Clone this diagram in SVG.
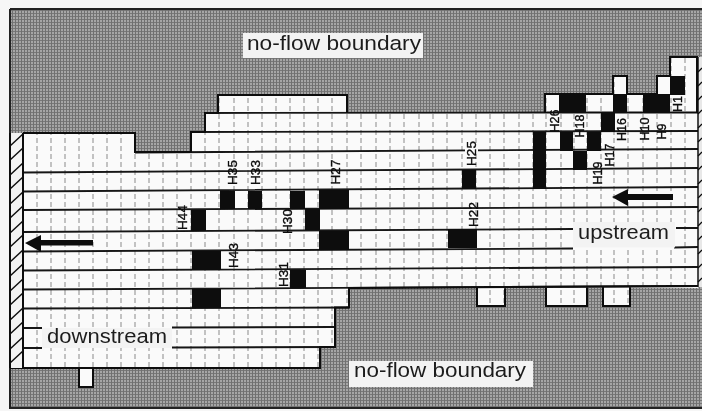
<svg xmlns="http://www.w3.org/2000/svg" width="702" height="411" viewBox="0 0 702 411">
<style>
.lbl{font-family:"Liberation Sans",Arial,sans-serif;font-size:20.500px;fill:#1c1c1c}
.h{font-family:"Liberation Sans",Arial,sans-serif;font-size:13.500px;fill:#0a0a0a;stroke:#0a0a0a;stroke-width:.35;text-anchor:middle}
.hs{font-size:12.500px}
.row{stroke:#151515;stroke-width:1.8;fill:none}
.edge{stroke:#0a0a0a;stroke-width:2;fill:none}
.grid{stroke:#8a8a8a;stroke-width:1;stroke-dasharray:5 3;fill:none}
.cell{fill:#0a0a0a}
.w{fill:#fafafa}
.box{fill:#f3f3f3}
</style>
<defs>
<pattern id="ht" width="3" height="3" patternUnits="userSpaceOnUse">
<rect width="3" height="3" fill="#a6a6a6"/>
<rect x="0" y="0" width="1" height="3" fill="#707070"/>
<rect x="1" y="1" width="2" height="1" fill="#787878"/>
</pattern>
<filter id="soft" x="0" y="0" width="100%" height="100%"><feGaussianBlur stdDeviation="0.5"/></filter>
<clipPath id="cells">
<rect x="23" y="133" width="112" height="19"/>
<rect x="218" y="95" width="129" height="18"/>
<rect x="205" y="113" width="493" height="19"/>
<rect x="191" y="132" width="507" height="21"/>
<rect x="23" y="152" width="675" height="136"/>
<rect x="23" y="288" width="326" height="20"/>
<rect x="23" y="308" width="312" height="39"/>
<rect x="23" y="347" width="297" height="21"/>
<rect x="79" y="368" width="14" height="19"/>
<rect x="477" y="287" width="28" height="19"/>
<rect x="546" y="287" width="41" height="19"/>
<rect x="603" y="287" width="27" height="19"/>
<rect x="546" y="94" width="152" height="19"/>
<rect x="613" y="76" width="14" height="18"/>
<rect x="657" y="76" width="40" height="18"/>
<rect x="670" y="57" width="27" height="19"/>
</clipPath>
</defs>
<rect width="702" height="411" fill="#f6f6f6"/>
<g filter="url(#soft)">
<g id="ground">
<rect x="10" y="9" width="692" height="399" fill="url(#ht)"/>
<path d="M10 9H702M10 9V408H702" fill="none" stroke="#222" stroke-width="2"/>
</g>
<g id="cells-white" clip-path="url(#cells)">
<rect class="w" x="0" y="0" width="702" height="411"/>
<path class="grid" d="M37 58V390M51 58V390M65 58V390M79 58V390M93 58V390M107 58V390M121 58V390M135 58V390M149 58V390M163 58V390M177 58V390M191 58V390M205 58V390M219 58V390M234 58V390M248 58V390M262 58V390M276 58V390M290 58V390M304 58V390M318 58V390M332 58V390M347 58V390M361 58V390M376 58V390M390 58V390M404 58V390M419 58V390M433 58V390M447 58V390M462 58V390M476 58V390M490 58V390M504 58V390M519 58V390M533 58V390M546 58V390M561 58V390M574 58V390M587 58V390M601 58V390M614 58V390M628 58V390M643 58V390M657 58V390M671 58V390M685 58V390"/>
</g>
<g id="connectors">
<path class="row" d="M135 152.500L698 149M23 172.500L698 168M23 191.500L698 187M23 210L698 207M23 232L573 229M676 228L698 228M23 251.500L573 248.500M674 247.500L698 247M23 270.500L698 267M23 289.500L698 286M23 308.500L349 307.500M23 328L42 328M172 327.500L335 327M23 348L42 348M172 347.500L335 347M205 113L545 112.500M191 132L698 131"/>
<path class="edge" d="M23 133H135V152H191V132H205V113H218V95H347V113M545 112.500V94H613V76H627V94H657V76H670V57H697V112M545 112.500H698M10 368H320V347H335V307.500H349V288L698 286M477 287V306H505V287M546 287V306H587V287M603 287V306H630V287M79 368V387H93V368"/>
</g>
<g id="black-cells">
<rect class="cell" x="559" y="94" width="27" height="19"/>
<rect class="cell" x="613" y="94" width="14" height="19"/>
<rect class="cell" x="643" y="94" width="27" height="19"/>
<rect class="cell" x="670" y="76" width="15" height="19"/>
<rect class="cell" x="601" y="113" width="14" height="19"/>
<rect class="cell" x="560" y="132" width="13" height="19"/>
<rect class="cell" x="587" y="132" width="14" height="19"/>
<rect class="cell" x="573" y="151" width="14" height="19"/>
<rect class="cell" x="533" y="132" width="13" height="57"/>
<rect class="cell" x="462" y="170" width="14" height="19"/>
<rect class="cell" x="448" y="229" width="29" height="19"/>
<rect class="cell" x="220" y="191" width="15" height="18"/>
<rect class="cell" x="248" y="191" width="14" height="18"/>
<rect class="cell" x="290" y="191" width="15" height="18"/>
<rect class="cell" x="319" y="190" width="30" height="19"/>
<rect class="cell" x="191" y="210" width="15" height="21"/>
<rect class="cell" x="305" y="209" width="15" height="21"/>
<rect class="cell" x="319" y="231" width="30" height="19"/>
<rect class="cell" x="192" y="251" width="29" height="19"/>
<rect class="cell" x="290" y="270" width="16" height="18"/>
<rect class="cell" x="192" y="289" width="29" height="19"/>
</g>
<g id="walls">
<rect x="10" y="133" width="13" height="235" fill="#f3f3f3"/>
<path d="M10 133V368M23 133V368" stroke="#111" stroke-width="2" fill="none"/>
<path d="M10 146L23 134M10 160L23 148M10 175L23 163M10 189L23 177M10 204L23 192M10 218L23 206M10 233L23 221M10 247L23 235M10 262L23 250M10 276L23 264M10 291L23 279M10 305L23 293M10 320L23 308M10 334L23 322M10 349L23 337M10 363L23 351" stroke="#111" stroke-width="1.500" fill="none"/>
<rect x="698" y="57" width="4" height="230" fill="#e8e8e8"/>
<path d="M698 57V287" stroke="#111" stroke-width="1.500"/>
<path d="M698 72L702 68M698 86L702 82M698 100L702 96M698 114L702 110M698 128L702 124M698 142L702 138M698 156L702 152M698 170L702 166M698 184L702 180M698 198L702 194M698 212L702 208M698 226L702 222M698 240L702 236M698 254L702 250M698 268L702 264M698 282L702 278" stroke="#111" stroke-width="1.300"/>
</g>
<g id="arrows">
<path class="cell" d="M25 243L41 235V240H93V245.500H41V252Z"/>
<path class="cell" d="M612 197L628 189V194H673V200H628V206Z"/>
</g>
<g id="labels">
<rect class="w" x="465" y="146" width="13" height="8"/>
<rect class="box" x="243" y="33" width="180" height="25"/>
<text class="lbl" x="247" y="50" textLength="174" lengthAdjust="spacingAndGlyphs">no-flow boundary</text>
<rect class="box" x="349" y="361" width="184" height="26"/>
<text class="lbl" x="354" y="377" textLength="172" lengthAdjust="spacingAndGlyphs">no-flow boundary</text>
<rect class="box" x="573" y="222" width="102" height="25.500"/>
<text class="lbl" x="578" y="239" textLength="91" lengthAdjust="spacingAndGlyphs">upstream</text>
<rect class="box" x="42" y="328" width="130" height="20"/>
<text class="lbl" x="47" y="343" textLength="120" lengthAdjust="spacingAndGlyphs">downstream</text>
<text class="h" transform="translate(237,172.500) rotate(-90)">H35</text>
<text class="h" transform="translate(260,172.500) rotate(-90)">H33</text>
<text class="h" transform="translate(340,172) rotate(-90)">H27</text>
<text class="h" transform="translate(187,217.500) rotate(-90)">H44</text>
<text class="h" transform="translate(292,221.500) rotate(-90)">H30</text>
<text class="h" transform="translate(238,255.500) rotate(-90)">H43</text>
<text class="h" transform="translate(288,274.500) rotate(-90)">H31</text>
<text class="h" transform="translate(476,153.500) rotate(-90)">H25</text>
<text class="h" transform="translate(478,214.500) rotate(-90)">H22</text>
<text class="h hs" transform="translate(559,121) rotate(-90)">H26</text>
<text class="h hs" transform="translate(584,126) rotate(-90)">H18</text>
<text class="h hs" transform="translate(626,129.500) rotate(-90)">H16</text>
<text class="h hs" transform="translate(649,129) rotate(-90)">H10</text>
<text class="h hs" transform="translate(666,131.500) rotate(-90)">H9</text>
<text class="h hs" transform="translate(614,155) rotate(-90)">H17</text>
<text class="h hs" transform="translate(602,173) rotate(-90)">H19</text>
<text class="h hs" transform="translate(682,104) rotate(-90)">H1</text>
</g>
</g>
</svg>
